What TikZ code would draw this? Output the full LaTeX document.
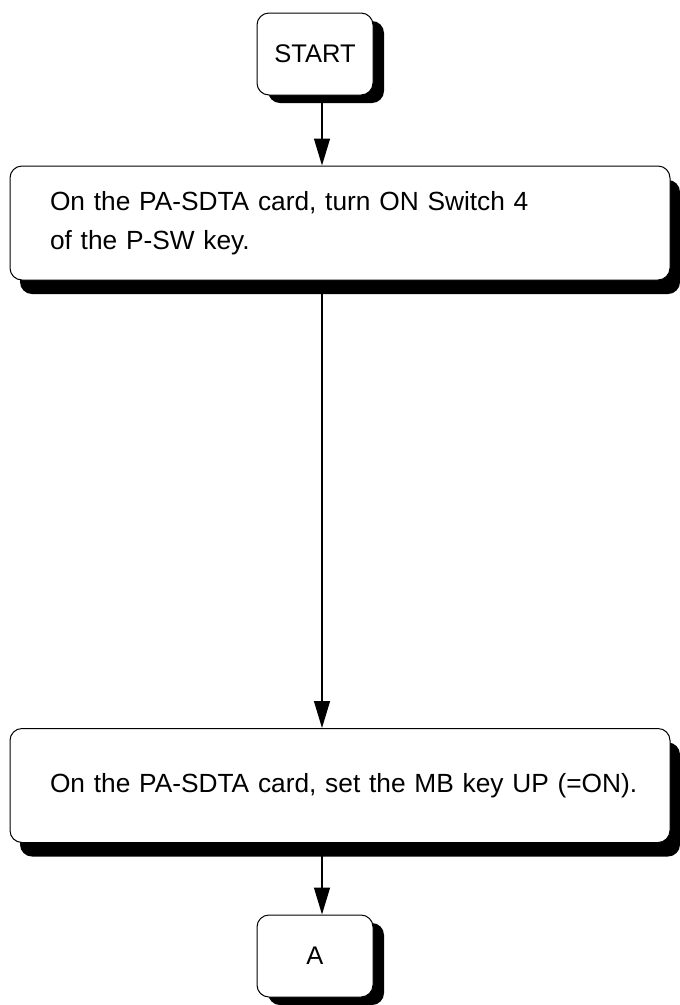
\documentclass[tikz,border=0pt]{standalone}
\usepackage{fontspec}
\setmainfont{Liberation Sans}
\usetikzlibrary{arrows.meta,shadows}
\begin{document}
\begin{tikzpicture}[x=1pt,y=-1pt,
  term/.style={draw=black, line width=1pt, fill=white, rounded corners=12pt,
    minimum width=116pt, minimum height=82pt, inner sep=0pt,
    font=\fontsize{25.5}{30}\selectfont,
    drop shadow={shadow xshift=11pt, shadow yshift=-8pt, fill=black, opacity=1}},
  proc/.style={draw=black, line width=1pt, fill=white, rounded corners=12pt,
    text width=618pt, inner xsep=21pt, inner ysep=0pt, minimum height=114pt, align=left,
    font=\fontsize{26.3}{39}\selectfont,
    execute at begin node={\leftskip=19pt},
    drop shadow={shadow xshift=10pt, shadow yshift=-14pt, fill=black, opacity=1}},
  flow/.style={line width=1.3pt, -{Triangle[length=27pt,width=16pt]}}
]
\useasboundingbox (0,0) rectangle (680,1005);
\node[term] (start) at (315,54) {START};
\node[proc] (b1) at (340,223) {On the PA-SDTA card, turn ON Switch 4\\of the P-SW key.};
\node[proc] (b2) at (340,785.5) {On the PA-SDTA card, set the MB key UP (=ON).};
\node[term] (a) at (315,956) {A};
\draw[flow] ([xshift=7pt]start.south) -- ([xshift=7pt]start.south |- b1.north);
\draw[flow] ([xshift=-18pt]b1.south) -- ([xshift=-18pt]b1.south |- b2.north);
\draw[flow] ([xshift=-18pt]b2.south) -- ([xshift=7pt]a.north);
\end{tikzpicture}
\end{document}
